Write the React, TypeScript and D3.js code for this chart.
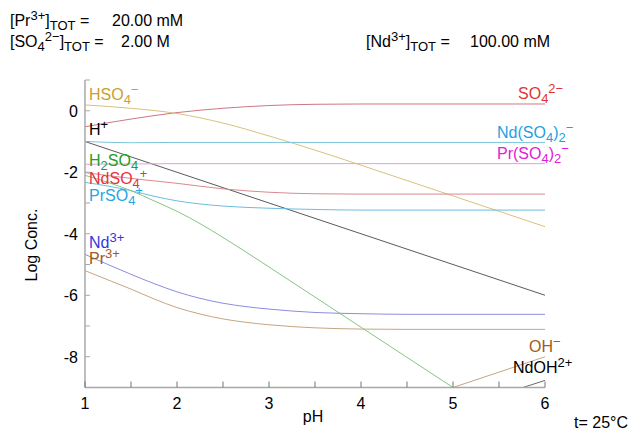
import React from "react";
import * as d3 from "d3";

// ---- data (pH, log concentration) ----
const so4: [number, number][] = [[1, -0.52], [1.5, -0.27], [2, -0.06], [2.5, 0.08], [3, 0.17], [3.5, 0.21], [4, 0.22], [5, 0.22], [6, 0.22]];
const hso4: [number, number][] = [[1, 0.19], [1.5, 0.08], [2, -0.09], [2.5, -0.4], [3, -0.82], [3.5, -1.28], [4, -1.77], [4.5, -2.27], [5, -2.77], [5.5, -3.27], [6, -3.77]];
const hPlus: [number, number][] = [[1, -1], [6, -6]];
const ndSO42: [number, number][] = [[1, -1.0], [1.5, -1.04], [2, -1.03], [3, -1.03], [4, -1.03], [6, -1.03]];
const prSO42: [number, number][] = [[1, -1.74], [1.5, -1.73], [2, -1.72], [3, -1.72], [6, -1.72]];
const ndSO4: [number, number][] = [[1, -2.01], [1.5, -2.2], [2, -2.36], [2.5, -2.54], [3, -2.65], [3.5, -2.7], [4, -2.71], [5, -2.71], [6, -2.71]];
const prSO4: [number, number][] = [[1, -2.33], [1.25, -2.45], [1.5, -2.6], [1.75, -2.78], [2, -2.93], [2.25, -3.03], [2.5, -3.1], [3, -3.17], [3.5, -3.21], [4, -3.23], [5, -3.23], [6, -3.23]];
const h2so4: [number, number][] = [[1, -2.1], [1.25, -2.33], [1.5, -2.6], [1.75, -2.93], [2, -3.27], [2.25, -3.67], [2.5, -4.12], [3, -5.08], [3.5, -6.06], [4, -7.04], [4.5, -8.02], [5, -9.0], [5.5, -10.0], [6, -11.0]];
const nd3: [number, number][] = [[1, -4.67], [1.25, -5.0], [1.5, -5.32], [1.75, -5.62], [2, -5.89], [2.25, -6.1], [2.5, -6.26], [2.75, -6.37], [3, -6.45], [3.5, -6.56], [4, -6.6], [4.5, -6.62], [6, -6.62]];
const pr3: [number, number][] = [[1, -5.2], [1.25, -5.5], [1.5, -5.8], [1.75, -6.12], [2, -6.4], [2.25, -6.61], [2.5, -6.77], [2.75, -6.88], [3, -6.96], [3.5, -7.06], [4, -7.1], [4.5, -7.11], [6, -7.11]];
const ohMinus: [number, number][] = [[5, -9], [5.5, -8.5], [6, -8]];
const ndOH: [number, number][] = [[5.76, -9], [6, -8.77]];

const xTicks = [1, 1.5, 2, 2.5, 3, 3.5, 4, 4.5, 5, 5.5, 6];
const xTickLabels = [1, 2, 3, 4, 5, 6];
const yTicks = [1, 0, -1, -2, -3, -4, -5, -6, -7, -8, -9];
const yTickLabels = [0, -2, -4, -6, -8];

type Seg = { t: string; k?: "sub" | "sup" };

const seriesList = [
  { data: so4, color: "#d07585" },
  { data: hso4, color: "#d9c27e" },
  { data: hPlus, color: "#5a5a5a" },
  { data: ndSO42, color: "#7cc6da" },
  { data: prSO42, color: "#e49ee4" },
  { data: ndSO4, color: "#d98a8f" },
  { data: prSO4, color: "#6cbde0" },
  { data: h2so4, color: "#86c486" },
  { data: nd3, color: "#8c8ce2" },
  { data: pr3, color: "#c6a484" },
  { data: ohMinus, color: "#c6a484" },
  { data: ndOH, color: "#6a6a6a" },
];

const labels: { x: number; y: number; color: string; segs: Seg[] }[] = [
  { x: 89, y: 100, color: "#c9a02e", segs: [{ t: "HSO" }, { t: "4", k: "sub" }, { t: "−", k: "sup" }] },
  { x: 89, y: 135, color: "#000", segs: [{ t: "H" }, { t: "+", k: "sup" }] },
  { x: 89, y: 166, color: "#22a022", segs: [{ t: "H" }, { t: "2", k: "sub" }, { t: "SO" }, { t: "4", k: "sub" }] },
  { x: 89, y: 184, color: "#e8323e", segs: [{ t: "NdSO" }, { t: "4", k: "sub" }, { t: "+", k: "sup" }] },
  { x: 89, y: 201, color: "#1fa6e6", segs: [{ t: "PrSO" }, { t: "4", k: "sub" }, { t: "+", k: "sup" }] },
  { x: 89, y: 248, color: "#3636e0", segs: [{ t: "Nd" }, { t: "3+", k: "sup" }] },
  { x: 89, y: 264, color: "#a05a22", segs: [{ t: "Pr" }, { t: "3+", k: "sup" }] },
  { x: 518, y: 99, color: "#e03535", segs: [{ t: "SO" }, { t: "4", k: "sub" }, { t: "2−", k: "sup" }] },
  { x: 497, y: 138, color: "#1e9fe0", segs: [{ t: "Nd(SO" }, { t: "4", k: "sub" }, { t: ")" }, { t: "2", k: "sub" }, { t: "−", k: "sup" }] },
  { x: 497, y: 159, color: "#e020d8", segs: [{ t: "Pr(SO" }, { t: "4", k: "sub" }, { t: ")" }, { t: "2", k: "sub" }, { t: "−", k: "sup" }] },
  { x: 529, y: 352, color: "#a05a22", segs: [{ t: "OH" }, { t: "−", k: "sup" }] },
  { x: 513, y: 373, color: "#000", segs: [{ t: "NdOH" }, { t: "2+", k: "sup" }] },
  { x: 10, y: 26, color: "#000", segs: [{ t: "[Pr" }, { t: "3+", k: "sup" }, { t: "]" }, { t: "TOT", k: "sub" }, { t: " =" }] },
  { x: 112, y: 26, color: "#000", segs: [{ t: "20.00 mM" }] },
  { x: 10, y: 47, color: "#000", segs: [{ t: "[SO" }, { t: "4", k: "sub" }, { t: "2−", k: "sup" }, { t: "]" }, { t: "TOT", k: "sub" }, { t: " =" }] },
  { x: 121, y: 47, color: "#000", segs: [{ t: "2.00 M" }] },
  { x: 366, y: 47, color: "#000", segs: [{ t: "[Nd" }, { t: "3+", k: "sup" }, { t: "]" }, { t: "TOT", k: "sub" }, { t: " =" }] },
  { x: 470, y: 47, color: "#000", segs: [{ t: "100.00 mM" }] },
];

const FONT = "'Liberation Sans', Arial, Helvetica, sans-serif";

function RichText({ x, y, color, segs }: { x: number; y: number; color: string; segs: Seg[] }) {
  let cur = 0;
  return (
    <text x={x} y={y} fill={color} fontSize={16} fontFamily={FONT}>
      {segs.map((s, i) => {
        const target = s.k === "sub" ? 4 : s.k === "sup" ? -6 : 0;
        const dy = target - cur;
        cur = target;
        return (
          <tspan key={i} dy={dy} fontSize={s.k ? 13 : 16}>
            {s.t}
          </tspan>
        );
      })}
    </text>
  );
}

export default function App() {
  const W = 631, H = 431;
  const x = d3.scaleLinear().domain([1, 6]).range([85, 545]);
  const y = d3.scaleLinear().domain([-9, 1]).range([387.5, 80]);
  const line = d3
    .line<[number, number]>()
    .x((d) => x(d[0]))
    .y((d) => y(d[1]))
    .curve(d3.curveMonotoneX);
  const axisColor = "#a8a8a8";

  return (
    <svg width={W} height={H} style={{ position: "absolute", left: 0, top: 0, background: "#fff" }}>
      <defs>
        <clipPath id="plotClip">
          <rect x={x(1)} y={y(1)} width={x(6) - x(1)} height={y(-9) - y(1)} />
        </clipPath>
      </defs>
      <rect width={W} height={H} fill="#fff" />
      <g clipPath="url(#plotClip)">
        {seriesList.map((s, i) => (
          <path key={i} d={line(s.data) || ""} fill="none" stroke={s.color} strokeWidth={1} />
        ))}
      </g>
      {/* axes */}
      <line x1={x(1)} x2={x(1)} y1={y(1)} y2={y(-9)} stroke={axisColor} strokeWidth={1.5} />
      <line x1={x(1)} x2={x(6)} y1={y(-9)} y2={y(-9)} stroke={axisColor} strokeWidth={1.5} />
      {yTicks.map((t) => (
        <line key={"yt" + t} x1={x(1)} x2={x(1) + 5} y1={y(t)} y2={y(t)} stroke={axisColor} strokeWidth={1} />
      ))}
      {xTicks.map((t) => (
        <line key={"xt" + t} x1={x(t)} x2={x(t)} y1={y(-9)} y2={y(-9) - 6} stroke="#777" strokeWidth={1} />
      ))}
      {yTickLabels.map((t) => (
        <text key={"yl" + t} x={78} y={y(t) + 6} textAnchor="end" fontSize={16} fontFamily={FONT} fill="#000">
          {t === 0 ? "0" : String(t)}
        </text>
      ))}
      {xTickLabels.map((t) => (
        <text key={"xl" + t} x={x(t)} y={409} textAnchor="middle" fontSize={16} fontFamily={FONT} fill="#000">
          {t}
        </text>
      ))}
      <text x={313} y={422} textAnchor="middle" fontSize={16} fontFamily={FONT}>pH</text>
      <text transform="translate(37,245) rotate(-90)" textAnchor="middle" fontSize={16} fontFamily={FONT}>Log Conc.</text>
      <text x={628} y={428} textAnchor="end" fontSize={16} fontFamily={FONT}>t= 25°C</text>
      {labels.map((l, i) => (
        <RichText key={i} {...l} />
      ))}
    </svg>
  );
}
